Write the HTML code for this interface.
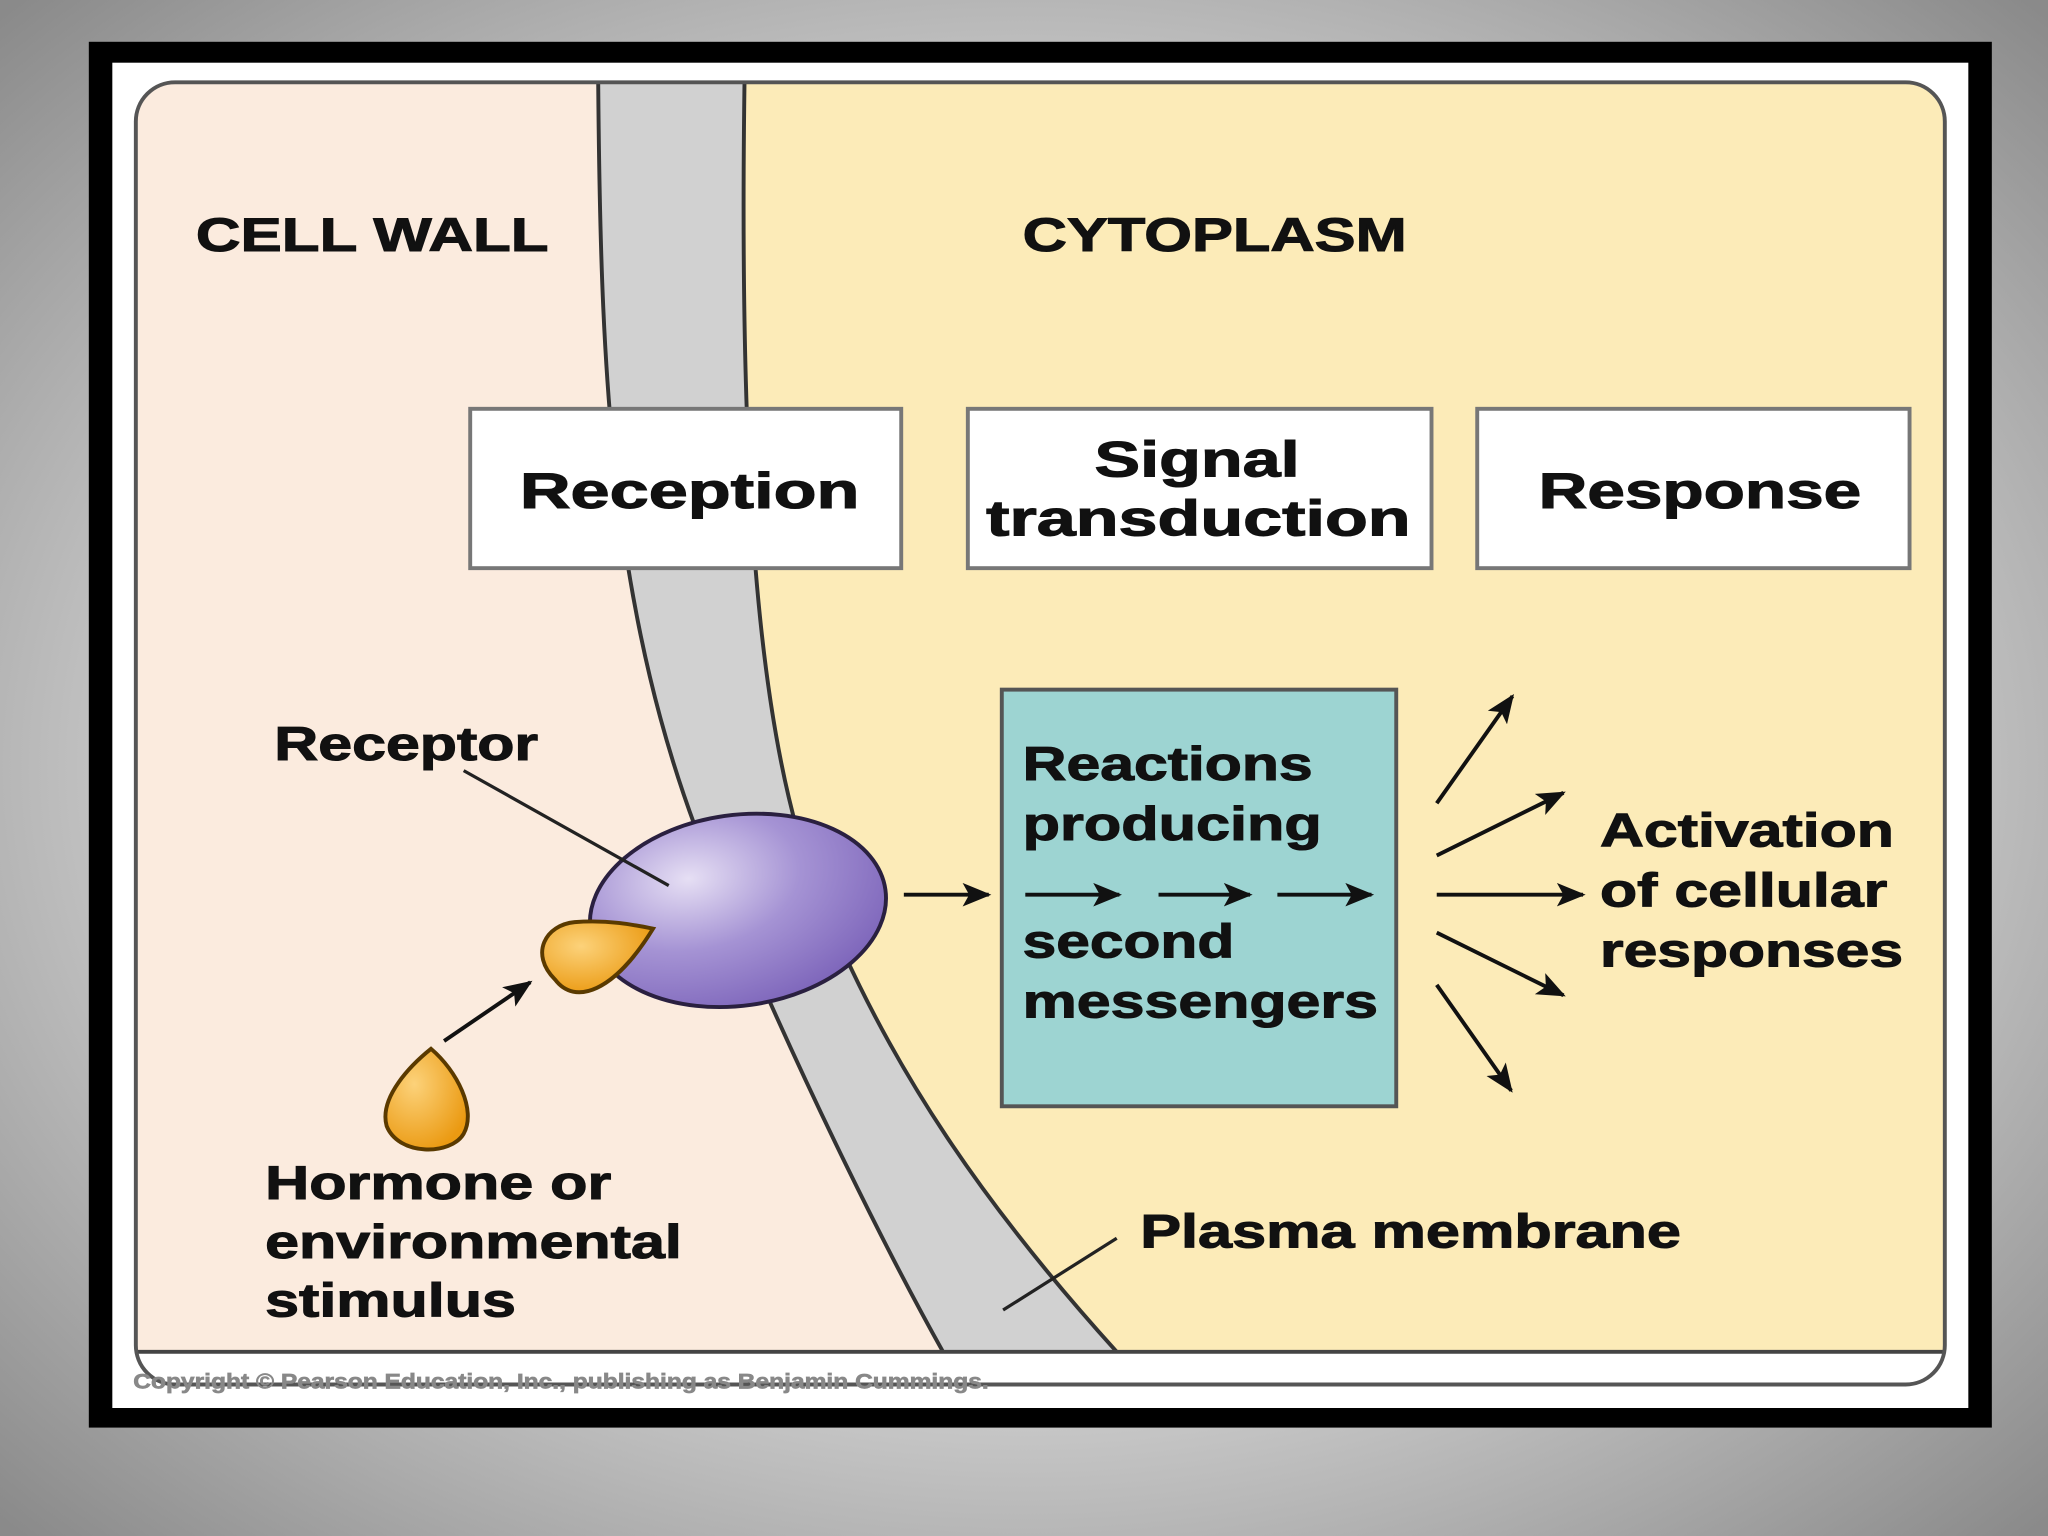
<!DOCTYPE html>
<html><head><meta charset="utf-8"><style>
html,body{margin:0;padding:0;width:2048px;height:1536px;overflow:hidden}
svg{display:block}
text{font-family:"Liberation Sans",sans-serif;font-weight:bold;fill:#111;stroke:#111;stroke-width:0.8}
</style></head><body>
<svg width="2048" height="1536" viewBox="0 0 1568 1176" preserveAspectRatio="none">
<defs>
<radialGradient id="bg" cx="50%" cy="50%" r="70%">
<stop offset="0" stop-color="#e8e8e8"/><stop offset="0.6" stop-color="#c8c8c8"/><stop offset="1" stop-color="#8a8a8a"/>
</radialGradient>
<radialGradient id="rec" cx="0.35" cy="0.3" r="0.75">
<stop offset="0" stop-color="#e6dff4"/><stop offset="0.5" stop-color="#a593d4"/><stop offset="1" stop-color="#7e66bb"/>
</radialGradient>
<radialGradient id="hor" cx="0.35" cy="0.35" r="0.7">
<stop offset="0" stop-color="#fcd27a"/><stop offset="1" stop-color="#eb9a12"/>
</radialGradient>
<marker id="ah2" markerWidth="22" markerHeight="18" refX="20" refY="9" orient="auto" markerUnits="userSpaceOnUse">
<path d="M0,0 L22,9 L0,18 L5,9 z" fill="#111"/></marker>
</defs>
<rect width="1568" height="1176" fill="url(#bg)"/>
<rect x="68" y="32" width="1457" height="1061" fill="#000"/>
<rect x="86" y="48" width="1421" height="1030" fill="#fff"/>
<path d="M133,64 H1460 Q1488,64 1488,92 V1035 H105 V92 Q105,64 133,64 z" fill="#fcebb8"/>
<path d="M133,64 H460 C462,300 470,500 560,700 C620,840 680,960 722,1035 H105 V92 Q105,64 133,64 z" fill="#fbebde"/>
<path d="M458,64 C460,300 468,500 560,700 C620,840 680,960 722,1035 L855,1035 C760,930 680,820 625,680 C578,560 566,350 570,64 z" fill="#d1d1d1"/>
<path d="M458,64 C460,300 468,500 560,700 C620,840 680,960 722,1035" fill="none" stroke="#333" stroke-width="3"/>
<path d="M570,64 C566,350 578,560 625,680 C680,820 760,930 855,1035" fill="none" stroke="#333" stroke-width="3"/>
<line x1="105" y1="1035" x2="1488" y2="1035" stroke="#444" stroke-width="3"/>
<rect x="104" y="63" width="1385" height="997" rx="30" fill="none" stroke="#555" stroke-width="3"/>
<text x="150" y="192" font-size="36" textLength="270" lengthAdjust="spacingAndGlyphs">CELL WALL</text>
<text x="783" y="192" font-size="36" textLength="294" lengthAdjust="spacingAndGlyphs">CYTOPLASM</text>
<rect x="360" y="313" width="330" height="122" fill="#fff" stroke="#777" stroke-width="3"/>
<rect x="741" y="313" width="355" height="122" fill="#fff" stroke="#777" stroke-width="3"/>
<rect x="1131" y="313" width="331" height="122" fill="#fff" stroke="#777" stroke-width="3"/>
<text x="398" y="389" font-size="38" textLength="260" lengthAdjust="spacingAndGlyphs">Reception</text>
<text x="838" y="365" font-size="38" textLength="157" lengthAdjust="spacingAndGlyphs">Signal</text>
<text x="755" y="410" font-size="38" textLength="325" lengthAdjust="spacingAndGlyphs">transduction</text>
<text x="1178" y="389" font-size="38" textLength="247" lengthAdjust="spacingAndGlyphs">Response</text>
<rect x="767" y="528" width="302" height="319" fill="#9dd4d2" stroke="#555" stroke-width="3"/>
<g font-size="36"><text x="783" y="597" textLength="222" lengthAdjust="spacingAndGlyphs">Reactions</text><text x="783" y="643" textLength="229" lengthAdjust="spacingAndGlyphs">producing</text>
<text x="783" y="733" textLength="162" lengthAdjust="spacingAndGlyphs">second</text><text x="783" y="779" textLength="272" lengthAdjust="spacingAndGlyphs">messengers</text></g>
<g stroke="#111" stroke-width="3" marker-end="url(#ah2)">
<line x1="785" y1="685" x2="857" y2="685"/><line x1="887" y1="685" x2="957" y2="685"/><line x1="978" y1="685" x2="1050" y2="685"/>
<line x1="692" y1="685" x2="757" y2="685"/>
<line x1="1100" y1="615" x2="1158" y2="533"/>
<line x1="1100" y1="655" x2="1197" y2="607"/>
<line x1="1100" y1="685" x2="1212" y2="685"/>
<line x1="1100" y1="714" x2="1197" y2="762"/>
<line x1="1100" y1="754" x2="1157" y2="835"/>
<line x1="340" y1="797" x2="406" y2="752"/>
</g>
<g font-size="36"><text x="1225" y="648" textLength="225" lengthAdjust="spacingAndGlyphs">Activation</text><text x="1225" y="694" textLength="220" lengthAdjust="spacingAndGlyphs">of cellular</text><text x="1225" y="740" textLength="232" lengthAdjust="spacingAndGlyphs">responses</text></g>
<ellipse cx="565" cy="697" rx="114" ry="73" transform="rotate(-8 565 697)" fill="url(#rec)" stroke="#2a2040" stroke-width="3"/>
<path d="M500,711 C470,760 440,770 425,750 C405,730 418,708 440,706 C465,704 485,708 500,711 z" fill="url(#hor)" stroke="#5a3a00" stroke-width="3"/>
<path d="M330,803 C350,820 365,850 355,868 C345,885 305,885 296,862 C290,840 315,815 330,803 z" fill="url(#hor)" stroke="#5a3a00" stroke-width="3"/>
<text x="210" y="582" font-size="36" textLength="202" lengthAdjust="spacingAndGlyphs">Receptor</text>
<line x1="355" y1="590" x2="512" y2="678" stroke="#222" stroke-width="2.5"/>
<g font-size="36"><text x="203" y="918" textLength="265" lengthAdjust="spacingAndGlyphs">Hormone or</text><text x="203" y="963" textLength="319" lengthAdjust="spacingAndGlyphs">environmental</text><text x="203" y="1008" textLength="192" lengthAdjust="spacingAndGlyphs">stimulus</text></g>
<text x="873" y="955" font-size="36" textLength="414" lengthAdjust="spacingAndGlyphs">Plasma membrane</text>
<line x1="768" y1="1003" x2="855" y2="948" stroke="#222" stroke-width="2.5"/>
<text x="102" y="1063" font-size="16" textLength="655" lengthAdjust="spacingAndGlyphs" style="fill:#888;stroke:#888;stroke-width:0.5">Copyright © Pearson Education, Inc., publishing as Benjamin Cummings.</text>
</svg>
</body></html>
